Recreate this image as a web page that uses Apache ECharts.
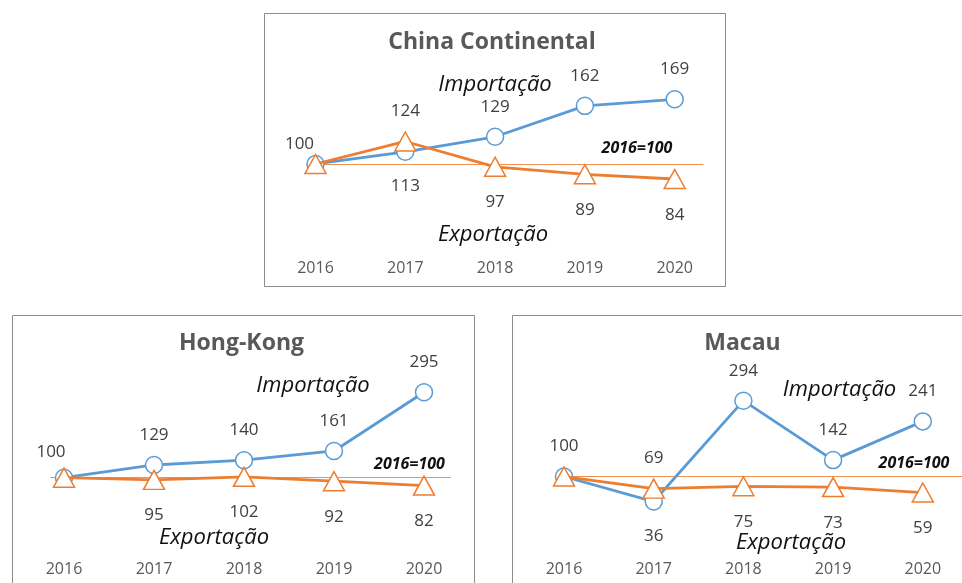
<!DOCTYPE html>
<html>
<head>
<meta charset="utf-8">
<script src="https://cdn.jsdelivr.net/npm/echarts@6/dist/echarts.min.js"></script>
<style>
  html, body { margin: 0; padding: 0; background: #fff; }
</style>
</head>
<body>
<div id="main" style="width: 962px; height: 583px;"></div>
<script>
// dados (índice 2016 = 100)
var years = [2016, 2017, 2018, 2019, 2020];
var chinaImport = [100, 113, 129, 162, 169];
var chinaExport = [100, 124, 97, 89, 84];
var hkImport = [100, 129, 140, 161, 295];
var hkExport = [100, 95, 102, 92, 82];
var macauImport = [100, 36, 294, 142, 241];
var macauExport = [100, 69, 75, 73, 59];
var baseValue = 100;
var baseLabel = '2016=100';
var panelTitles = ['China Continental', 'Hong-Kong', 'Macau'];

var BLUE = '#5b9bd5';
var ORANGE = '#ed7d31';
var FONT = '"Open Sans", Lato, sans-serif';

// layout de cada painel (pixels)
var panels = [
  {
    title: panelTitles[0], imp: chinaImport, exp: chinaExport,
    box: [264, 13, 461, 273], titlePos: [492, 42],
    x2016: 315.5, pxYear: 89.8, top: 70.2, height: 131.3, yMin: 60, yMax: 200, labelY: 268,
    lineFrom: 2016, lineTo: 2020.32, firstOffset: [-16, 10],
    impText: [495, 85], expText: [493, 235], baseText: [637, 148.5]
  },
  {
    title: panelTitles[1], imp: hkImport, exp: hkExport,
    box: [12, 315, 462, 290], titlePos: [241.5, 343],
    x2016: 64, pxYear: 90, top: 381.3, height: 118.3, yMin: 50, yMax: 320, labelY: 569,
    lineFrom: 2015.85, lineTo: 2020.3, firstOffset: [-13, 4],
    impText: [313, 386], expText: [214, 538], baseText: [409.5, 464]
  },
  {
    title: panelTitles[2], imp: macauImport, exp: macauExport,
    box: [512, 315, 470, 290], titlePos: [742.5, 343],
    x2016: 564, pxYear: 89.7, top: 390.5, height: 117.3, yMin: 20, yMax: 320, labelY: 569,
    lineFrom: 2016, lineTo: 2020.44, firstOffset: [0, -1],
    impText: [839.5, 390], expText: [791, 543], baseText: [914, 463.5]
  }
];

var myChart = echarts.init(document.getElementById('main'));

var grids = [], xAxes = [], yAxes = [], series = [], graphics = [];

function buildData(values, other, isImport, p) {
  return values.map(function (v, i) {
    var up = isImport ? v >= other[i] : v > other[i];
    var item = {
      value: [years[i], v],
      label: { position: up ? 'top' : 'bottom', distance: up ? 12 : 17 }
    };
    if (i === 0) {
      if (isImport) {
        item.label.offset = p.firstOffset;
      } else {
        item.label.show = false;
      }
    }
    return item;
  });
}

panels.forEach(function (p, k) {
  grids.push({
    left: p.x2016 - p.pxYear,
    width: p.pxYear * 6,
    top: p.top,
    height: p.height,
    containLabel: false,
    outerBoundsMode: 'none'
  });
  xAxes.push({
    gridIndex: k,
    type: 'value',
    min: 2015,
    max: 2021,
    interval: 1,
    axisLine: { show: false },
    axisTick: { show: false },
    splitLine: { show: false },
    axisLabel: {
      margin: p.labelY - 8 - (p.top + p.height),
      color: '#595959',
      fontFamily: FONT,
      fontSize: 16,
      formatter: function (v) { return years.indexOf(v) >= 0 ? String(v) : ''; }
    }
  });
  yAxes.push({
    gridIndex: k,
    type: 'value',
    min: p.yMin,
    max: p.yMax,
    show: false,
    splitLine: { show: false }
  });

  var labelStyle = {
    show: true,
    color: '#404040',
    fontFamily: FONT,
    fontSize: 17,
    lineHeight: 17
  };

  series.push({
    name: 'Importação',
    type: 'line',
    xAxisIndex: k,
    yAxisIndex: k,
    data: buildData(p.imp, p.exp, true, p),
    symbol: 'circle',
    symbolSize: 17,
    lineStyle: { color: BLUE, width: 2.8 },
    itemStyle: { color: '#fff', borderColor: BLUE, borderWidth: 1.5 },
    label: labelStyle,
    z: 3,
    markLine: {
      silent: true,
      symbol: 'none',
      label: { show: false },
      lineStyle: { color: ORANGE, width: 1.2, type: 'solid', opacity: 0.85 },
      data: [[{ coord: [p.lineFrom, baseValue] }, { coord: [p.lineTo, baseValue] }]],
      z: 2
    }
  });
  series.push({
    name: 'Exportação',
    type: 'line',
    xAxisIndex: k,
    yAxisIndex: k,
    data: buildData(p.exp, p.imp, false, p),
    symbol: 'triangle',
    symbolSize: [21, 19],
    lineStyle: { color: ORANGE, width: 2.8 },
    itemStyle: { color: '#fff', borderColor: ORANGE, borderWidth: 1.5 },
    label: labelStyle,
    z: 4
  });

  // moldura + textos
  graphics.push({
    type: 'rect',
    shape: { x: p.box[0] + 0.5, y: p.box[1] + 0.5, width: p.box[2], height: p.box[3] },
    style: { fill: null, stroke: '#8c8c8c', lineWidth: 1 },
    z: -10
  });
  graphics.push({
    type: 'text',
    x: p.titlePos[0], y: p.titlePos[1],
    style: {
      text: p.title, fill: '#595959', font: 'bold 23px ' + FONT,
      textAlign: 'center', textVerticalAlign: 'middle'
    }
  });
  graphics.push({
    type: 'text',
    x: p.impText[0], y: p.impText[1],
    style: {
      text: 'Importação', fill: '#111', font: 'italic 22px ' + FONT,
      textAlign: 'center', textVerticalAlign: 'middle'
    }
  });
  graphics.push({
    type: 'text',
    x: p.expText[0], y: p.expText[1],
    style: {
      text: 'Exportação', fill: '#111', font: 'italic 22px ' + FONT,
      textAlign: 'center', textVerticalAlign: 'middle'
    }
  });
  graphics.push({
    type: 'text',
    x: p.baseText[0], y: p.baseText[1],
    style: {
      text: baseLabel, fill: '#111', font: 'italic bold 16px ' + FONT,
      textAlign: 'center', textVerticalAlign: 'middle'
    }
  });
});

var option = {
  backgroundColor: '#fff',
  animation: false,
  grid: grids,
  xAxis: xAxes,
  yAxis: yAxes,
  series: series,
  graphic: graphics
};
myChart.setOption(option);
</script>
</body>
</html>
